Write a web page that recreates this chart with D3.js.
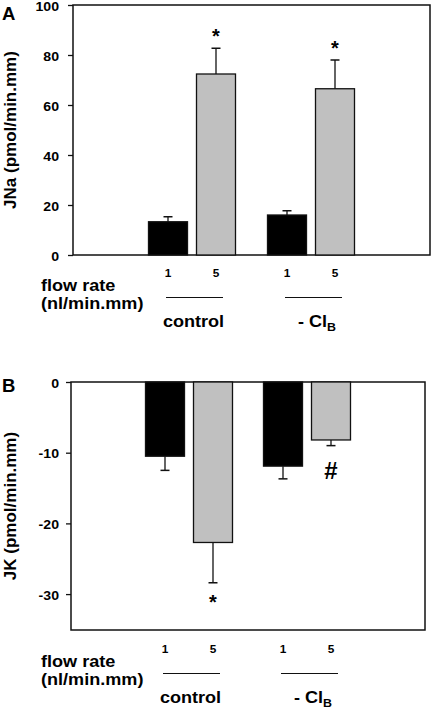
<!DOCTYPE html>
<html><head><meta charset="utf-8">
<script src="https://cdn.jsdelivr.net/npm/d3@7"></script>
<style>body{margin:0;background:#fff}svg{display:block}text{font-family:"Liberation Sans",Arial,sans-serif;font-weight:bold;fill:#000}</style>
</head><body>
<script>
const groups = ["control", "-Cl"];
const flowRates = ["1", "5"];
// Panel A: JNa
const jnaMean = [[13.3, 72.4], [16.0, 66.5]];
const jnaErr = [[2.0, 10.3], [1.7, 11.5]];
const jnaMarks = [["", "*"], ["", "*"]];
const jnaTicks = [0, 20, 40, 60, 80, 100];
// Panel B: JK
const jkMean = [[-10.5, -22.7], [-11.9, -8.2]];
const jkErr = [[2.0, 5.7], [1.8, 0.8]];
const jkMarks = [["", "*"], ["", "#"]];
const jkTicks = [0, -10, -20, -30];

const SX = 1.13;
const svg = d3.select("body").append("svg").attr("width", 432).attr("height", 708);

function txt(g, x, y, size, str, anchor) {
  return g.append("text").attr("transform", `translate(${x},${y}) scale(${SX},1)`)
    .attr("text-anchor", anchor || "start").attr("font-size", size).text(str);
}

function panel(cfg) {
  const g = svg.append("g");
  const x0 = d3.scalePoint().domain(groups).range([cfg.left, cfg.right]).padding(1);
  const x1 = d3.scaleBand().domain(flowRates).range([-43.5, 43.5]).paddingInner(0.1875);
  const y = d3.scaleLinear().domain(cfg.domain).range([cfg.bottom, cfg.top]);
  // frame
  g.append("rect").attr("x", cfg.left).attr("y", cfg.top)
    .attr("width", cfg.right - cfg.left).attr("height", cfg.bottom - cfg.top)
    .attr("fill", "none").attr("stroke", "#111").attr("stroke-width", 1.5);
  // axis
  const ax = g.append("g").attr("transform", `translate(${cfg.left},0)`)
    .call(d3.axisLeft(y).tickValues(cfg.ticks).tickSize(5).tickPadding(cfg.left - 59 - 5).tickFormat(d3.format("d")));
  ax.select(".domain").remove();
  ax.selectAll(".tick line").attr("stroke", "#111").attr("stroke-width", 1.3);
  ax.selectAll(".tick text")
    .attr("font-size", 12.5).attr("font-family", "Liberation Sans, Arial, sans-serif").attr("font-weight", "bold")
    .attr("x", -(cfg.left - 59) / SX).attr("dy", "0.42em").attr("transform", `scale(${SX},1)`)
    .text(d => d < 0 ? "-" + Math.abs(d) : d);
  // bars
  groups.forEach((grp, gi) => {
    flowRates.forEach((fr, fi) => {
      const v = cfg.mean[gi][fi], e = cfg.err[gi][fi];
      const bx = x0(grp) + x1(fr);
      const cx = bx + x1.bandwidth() / 2;
      const y0 = y(0), yv = y(v), ye = y(v + Math.sign(v) * e);
      // error bar
      g.append("line").attr("x1", cx).attr("x2", cx).attr("y1", yv).attr("y2", ye)
        .attr("stroke", "#111").attr("stroke-width", 1.3);
      g.append("line").attr("x1", cx - 4.5).attr("x2", cx + 4.5).attr("y1", ye).attr("y2", ye)
        .attr("stroke", "#111").attr("stroke-width", 1.5);
      g.append("rect").attr("x", bx).attr("width", x1.bandwidth())
        .attr("y", Math.min(y0, yv)).attr("height", Math.abs(yv - y0))
        .attr("fill", fi === 0 ? "#000" : "#c0c0c0").attr("stroke", "#111").attr("stroke-width", 1.3);
      const m = cfg.marks[gi][fi];
      if (m) {
        const my = v > 0 ? ye - 5.5 : (m === "#" ? ye + 33 : ye + 26);
        g.append("text").attr("x", cx).attr("y", my).attr("text-anchor", "middle")
          .attr("font-size", m === "#" ? 24 : 20).text(m);
      }
      // flow rate labels
      txt(g, cx, cfg.bottomAxis + 22, 10.5, fr, "middle");
    });
    const gc = x0(grp);
    g.append("line").attr("x1", gc - 26).attr("x2", gc + 31)
      .attr("y1", cfg.bottomAxis + 42.5).attr("y2", cfg.bottomAxis + 42.5).attr("stroke", "#111").attr("stroke-width", 1.2);
    if (grp === "control") {
      txt(g, gc + 1.5, cfg.bottomAxis + 72, 16, "control", "middle");
    } else {
      const t = txt(g, gc + 6, cfg.bottomAxis + 72, 16, "", "middle");
      t.append("tspan").text("- Cl");
      t.append("tspan").attr("font-size", 11).attr("dy", 4).text("B");
    }
  });
  txt(g, 41, cfg.bottomAxis + 36, 16, "flow rate");
  txt(g, 41, cfg.bottomAxis + 54, 16, "(nl/min.mm)");
  // y title
  const cy = (cfg.top + cfg.bottom) / 2;
  g.append("text").attr("transform", `translate(15.5,${cy}) rotate(-90)`).attr("text-anchor", "middle")
    .attr("font-size", 17).text(cfg.title);
  g.append("text").attr("x", 2).attr("y", cfg.letterY).attr("font-size", 18.5).text(cfg.letter);
}

panel({left: 73, right: 430, top: 5, bottom: 255, bottomAxis: 255, domain: [0, 100], ticks: jnaTicks,
  mean: jnaMean, err: jnaErr, marks: jnaMarks, title: "JNa (pmol/min.mm)", letter: "A", letterY: 20});
panel({left: 71, right: 425, top: 382, bottom: 630, bottomAxis: 631, domain: [-35.08, 0], ticks: jkTicks,
  mean: jkMean, err: jkErr, marks: jkMarks, title: "JK (pmol/min.mm)", letter: "B", letterY: 392});
</script>
</body></html>
